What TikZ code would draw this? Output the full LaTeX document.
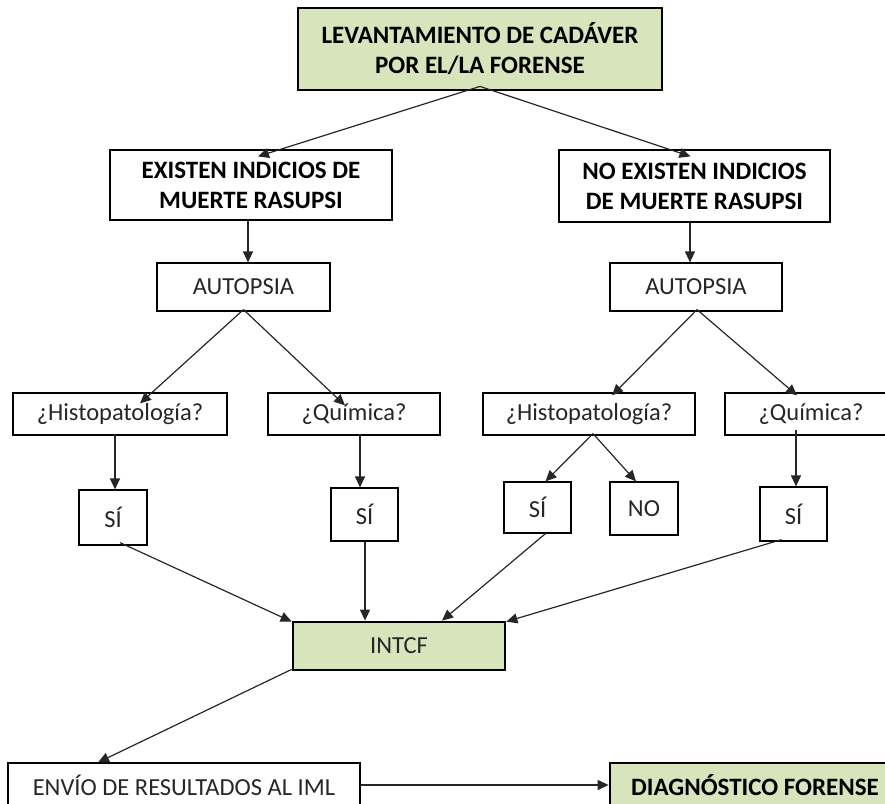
\documentclass[tikz,border=0pt]{standalone}
\usepackage{fontspec}
\setmainfont{Carlito}
\usetikzlibrary{arrows.meta}
\definecolor{boxgreen}{HTML}{D8E4BC}
\definecolor{txt}{HTML}{262626}
\tikzset{
  x=1pt, y=-1pt,
  plainbox/.style={draw=black, line width=1.2pt, rectangle, inner sep=0pt, align=center, text=txt, font=\fontsize{24.5}{30}\selectfont},
  boldbox/.style={plainbox, font=\fontsize{25}{30}\selectfont\bfseries, text=black},
  greenbox/.style={draw=black, line width=2.8pt, fill=boxgreen, rectangle, inner sep=0pt, align=center},
  conn/.style={draw=black!85, line width=1.2pt, -{Triangle[length=11pt,width=10pt]}}
}
\begin{document}
\begin{tikzpicture}
\useasboundingbox (0,0) rectangle (885,803);
\clip (0,0) rectangle (885,803);
% nodes
\node[boldbox, greenbox, minimum width=364, minimum height=82] (top) at (480,49) {LEVANTAMIENTO DE CADÁVER\\POR EL/LA FORENSE};
\node[boldbox, minimum width=282, minimum height=70] (ex) at (251,185) {EXISTEN INDICIOS DE\\MUERTE RASUPSI};
\node[boldbox, minimum width=271, minimum height=72] (nex) at (694.5,186) {NO EXISTEN INDICIOS\\DE MUERTE RASUPSI};
\node[plainbox, minimum width=173, minimum height=48] (autL) at (243.5,287) {AUTOPSIA};
\node[plainbox, minimum width=172, minimum height=48] (autR) at (696,287) {AUTOPSIA};
\node[plainbox, minimum width=214, minimum height=42] (histL) at (120,414) {¿Histopatología?};
\node[plainbox, minimum width=172, minimum height=42] (quimL) at (354,414) {¿Química?};
\node[plainbox, minimum width=212, minimum height=42] (histR) at (589,414) {¿Histopatología?};
\node[plainbox, minimum width=172, minimum height=42] (quimR) at (811,414) {¿Química?};
\node[plainbox, minimum width=68, minimum height=55] (siL) at (113,517.5) {SÍ};
\node[plainbox, minimum width=67, minimum height=53] (siQL) at (364.5,514.5) {SÍ};
\node[plainbox, minimum width=67, minimum height=51] (siHR) at (537.5,507.5) {SÍ};
\node[plainbox, minimum width=68, minimum height=53] (no) at (644,508.5) {NO};
\node[plainbox, minimum width=67, minimum height=54] (siQR) at (793.5,514) {SÍ};
\node[plainbox, greenbox, minimum width=212, minimum height=48] (intcf) at (399,646) {INTCF};
\node[plainbox, minimum width=352, minimum height=44] (envio) at (184,785) {ENVÍO DE RESULTADOS AL IML};
\node[boldbox, greenbox, minimum width=290, minimum height=44] (diag) at (755,785) {DIAGNÓSTICO FORENSE};
% connectors
\draw[conn] ([yshift=5]top.south) -- ([xshift=7,yshift=-7]ex.north);
\draw[conn] ([yshift=5]top.south) -- ([xshift=-4,yshift=-7]nex.north);
\draw[conn] ([xshift=-3]ex.south) -- ([xshift=-3]ex.south |- autL.north);
\draw[conn] ([xshift=-4.5]nex.south) -- ([xshift=-4.5]nex.south |- autR.north);
\draw[conn] ([yshift=2]autL.south) -- ([xshift=20,yshift=-11]histL.north);
\draw[conn] ([yshift=2]autL.south) -- ([xshift=-9,yshift=-13]quimL.north);
\draw[conn] ([xshift=1,yshift=2]autR.south) -- ([xshift=23,yshift=-3]histR.north);
\draw[conn] ([xshift=1,yshift=2]autR.south) -- ([xshift=-14,yshift=-3]quimR.north);
\draw[conn] ([xshift=-5,yshift=2]histL.south) -- ([xshift=-5]histL.south |- siL.north);
\draw[conn] ([xshift=6,yshift=2]quimL.south) -- ([xshift=6]quimL.south |- siQL.north);
\draw[conn] ([xshift=4,yshift=2]histR.south) -- ([xshift=8]siHR.north);
\draw[conn] ([xshift=4,yshift=2]histR.south) -- ([xshift=-8]no.north);
\draw[conn] ([xshift=-15,yshift=6]quimR.south) -- ([xshift=-15]quimR.south |- siQR.north);
\draw[conn] ([xshift=7,yshift=3]siL.south) -- ([yshift=-1]intcf.north west);
\draw[conn] ([xshift=0.5]siQL.south) -- ([xshift=0.5]siQL.south |- intcf.north);
\draw[conn] ([xshift=8]siHR.south) -- ([xshift=43]intcf.north);
\draw[conn] ([xshift=-12,yshift=2]siQR.south) -- ([yshift=-1]intcf.north east);
\draw[conn] ([yshift=2]intcf.south west) -- ([xshift=-86]envio.north);
\draw[conn] (envio.east) -- (diag.west);
\end{tikzpicture}
\end{document}
